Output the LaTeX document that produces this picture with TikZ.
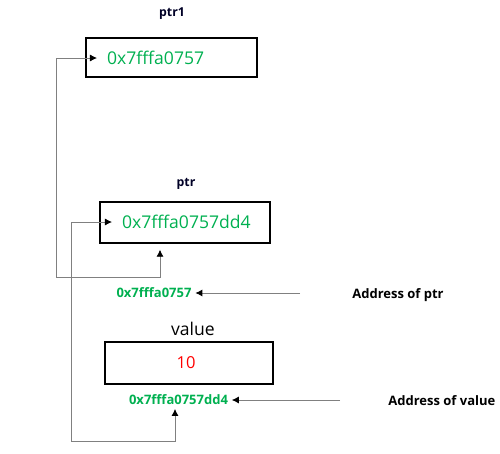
\documentclass[tikz,border=0pt]{standalone}
\usepackage{fontspec}
\setmainfont{Open Sans}
\usetikzlibrary{arrows.meta}
\definecolor{addrgreen}{RGB}{0,176,80}
\definecolor{linegray}{RGB}{128,128,128}
\tikzset{
  cell/.style={draw=black, line width=1.6pt, minimum width=3.4cm, minimum height=0.8cm, inner sep=0pt},
  varname/.style={font=\fontsize{7}{8}\selectfont\bfseries, text=black!85!blue},
  boxval/.style={font=\fontsize{10}{12}\selectfont, text=addrgreen, inner xsep=5.5pt, inner ysep=2pt},
  smalladdr/.style={font=\fontsize{7.4}{8}\selectfont\bfseries, text=addrgreen, inner sep=2pt},
  note/.style={font=\fontsize{7.4}{9}\selectfont\bfseries, anchor=west, inner sep=0pt},
  link/.style={draw=linegray, line width=0.5pt,
    {Latex[color=black,length=4pt,width=4pt]}-{Latex[color=black,length=4pt,width=4pt]}},
  onelink/.style={draw=linegray, line width=0.5pt, -{Latex[color=black,length=4pt,width=4pt]}}
}
\begin{document}
\begin{tikzpicture}[x=0.02cm,y=-0.02cm]
\useasboundingbox (0,0) rectangle (500,453);
% ptr1
\node[varname] (ptronename) at (172,14) {ptr1};
\node[cell, minimum width=3.42cm, minimum height=0.78cm] (ptronebox) at (171.5,57.5) {};
\node[boxval, anchor=west] (ptroneval) at (97,58) {0x7fffa0757};
% ptr
\node[varname] (ptrname) at (186,184) {ptr};
\node[cell, minimum height=0.82cm] (ptrbox) at (185,222.5) {};
\node[boxval, anchor=west] (ptrval) at (112,222) {0x7fffa0757dd4};
\node[smalladdr] (ptraddr) at (154,293) {0x7fffa0757};
\node[note] (ptrnote) at (352,295) {Address of ptr};
% value
\node[font=\fontsize{10}{12}\selectfont] (valname) at (193,329) {value};
\node[cell, minimum width=3.36cm, minimum height=0.84cm] (valbox) at (189,363) {};
\node[font=\fontsize{9.4}{11}\selectfont, text=red] (valval) at (186,363) {10};
\node[smalladdr] (valaddr) at (178.5,400) {0x7fffa0757dd4};
\node[note] (valnote) at (388,401) {Address of value};
% connectors
\coordinate (bendA) at (56,277);
\coordinate (bendB) at (160,277);
\coordinate (bendC) at (71,441);
\coordinate (bendD) at (175,441);
\coordinate (ptrtail) at (300,293);
\coordinate (valtail) at (340,400);
\draw[link, shorten >=3pt] (ptroneval.west) -| (bendA) -- (bendB) -- (bendB |- ptrbox.south);
\draw[link] (ptrval.west) -| (bendC) -- (bendD) -- (bendD |- valaddr.south);
\draw[onelink] (ptrtail) -- (ptraddr.east);
\draw[onelink] (valtail) -- (valaddr.east);
\end{tikzpicture}
\end{document}
